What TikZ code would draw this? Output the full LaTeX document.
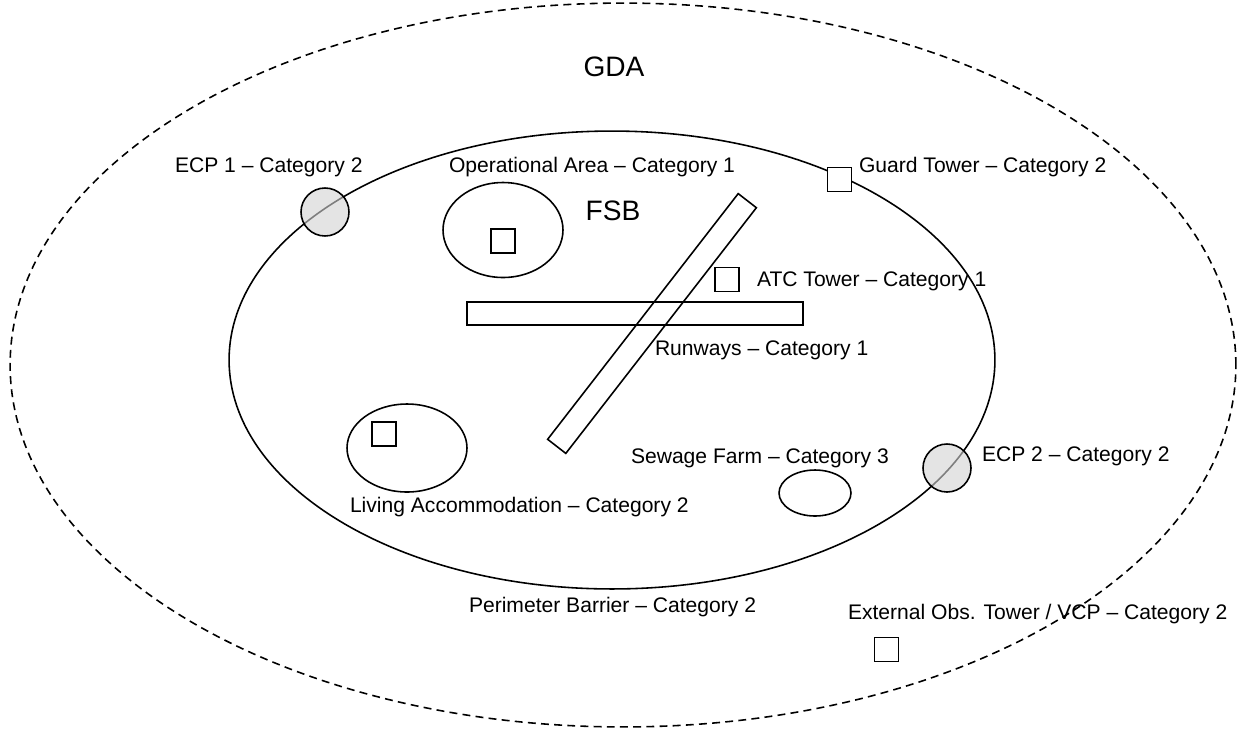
\documentclass[tikz,border=0pt]{standalone}
\usepackage{fontspec}
\setmainfont{Liberation Sans}
\usetikzlibrary{shapes.geometric}
\begin{document}
\begin{tikzpicture}[x=0.02cm,y=-0.02cm,
  every node/.style={inner sep=0pt, outer sep=0pt},
  outline/.style={draw=black, line width=0.9pt},
  zone/.style={outline, ellipse},
  hut/.style={outline, rectangle, fill=white, minimum size=0.48cm},
  strip/.style={outline, rectangle, minimum height=0.46cm},
  gate/.style={outline, circle, fill=gray!35, fill opacity=0.6, minimum size=0.96cm},
  label/.style={anchor=base west, font=\fontsize{12}{14}\selectfont},
  title/.style={anchor=base, font=\fontsize{16}{19}\selectfont}]
\useasboundingbox (0,0) rectangle (1247,731);

% ground defence area (dashed) and the base perimeter
\node[zone, dashed, dash pattern=on 4.5pt off 3pt, minimum width=24.52cm, minimum height=14.48cm] (gda) at (623,365) {};
\node[zone, minimum width=15.32cm, minimum height=9.16cm] (fsb) at (612,360) {};

% inner areas
\node[zone, minimum width=2.4cm, minimum height=1.9cm] (ops) at (503,230) {};
\node[zone, minimum width=2.4cm, minimum height=1.76cm] (living) at (407,448) {};
\node[zone, minimum width=1.44cm, minimum height=0.92cm] (sewage) at (815,493) {};

% runways
\node[strip, minimum width=6.72cm] (rwyA) at (635,313.5) {};
\node[strip, minimum width=6.22cm, rotate=52.2] (rwyB) at (652,323.5) {};

% towers and buildings
\node[hut] (opsbox) at (503,241) {};
\node[hut] (livbox) at (384,434) {};
\node[hut] (atc) at (727,279.5) {};
\node[hut] (guard) at (839.5,179.5) {};
\node[hut] (extobs) at (886.5,649.5) {};

% entry control points on the perimeter
\node[gate] (ecp1) at (325,212) {};
\node[gate] (ecp2) at (947,468) {};

% labels
\node[title] (tgda) at (614,76) {GDA};
\node[title] (tfsb) at (613,220) {FSB};
\node[label] (tecp1) at (175,172) {ECP 1 – Category 2};
\node[label] (tops) at (449,172) {Operational Area – Category 1};
\node[label] (tguard) at (859,172) {Guard Tower – Category 2};
\node[label] (tatc) at (757,286) {ATC Tower – Category 1};
\node[label] (trwy) at (655,355) {Runways – Category 1};
\node[label] (tsew) at (631,463) {Sewage Farm – Category 3};
\node[label] (tecp2) at (982,461) {ECP 2 – Category 2};
\node[label] (tliv) at (350,512) {Living Accommodation – Category 2};
\node[label] (tper) at (469,612) {Perimeter Barrier – Category 2};
\node[label] (text) at (848,619) {External Obs. Tower / VCP – Category 2};
\end{tikzpicture}
\end{document}
